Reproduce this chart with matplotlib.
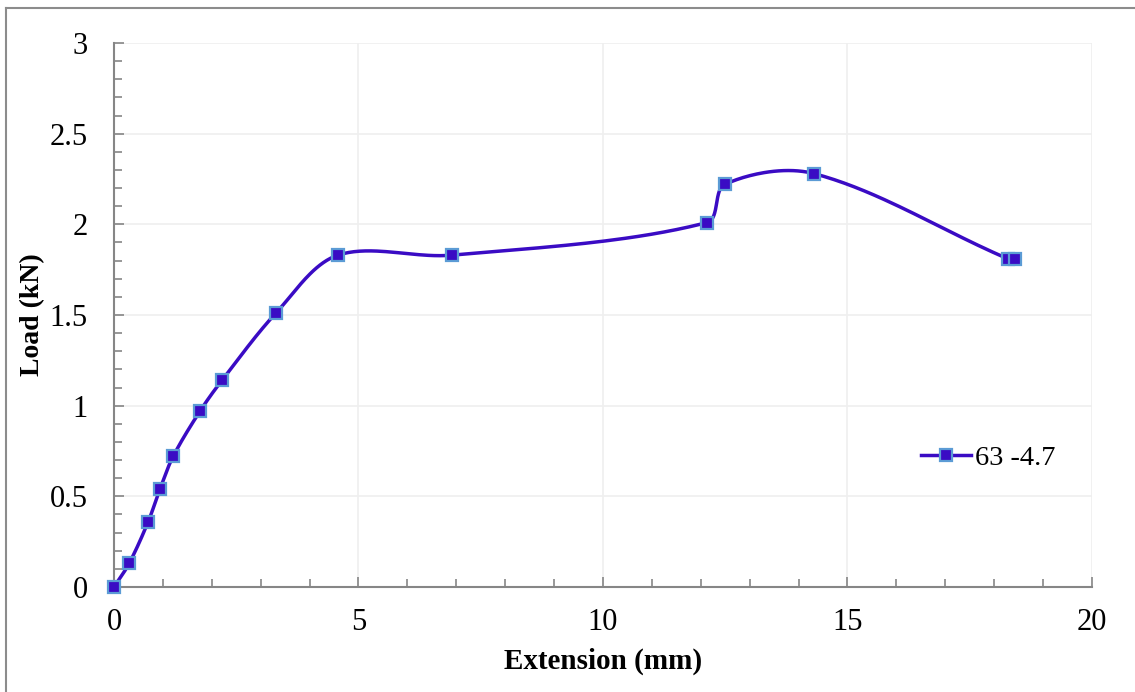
import numpy as np
import matplotlib.pyplot as plt
from matplotlib.lines import Line2D
from matplotlib.ticker import MultipleLocator

plt.rcParams['font.family'] = ['Liberation Serif', 'DejaVu Serif']

extension = [0, 0.31, 0.70, 0.94, 1.21, 1.76, 2.21, 3.31, 4.58, 6.91,
             12.13, 12.49, 14.31, 18.28, 18.42]
load = [0, 0.13, 0.36, 0.54, 0.72, 0.97, 1.14, 1.51, 1.83, 1.83,
        2.01, 2.22, 2.28, 1.81, 1.81]
series_name = '63 -4.7'

line_col = '#3a0bc4'
edge_col = '#5b9bd5'
axis_col = '#868686'


def smooth(ax, xs, ys, n=40):
    # smoothed line as cubic beziers in screen space, tangent handles
    # weighted by neighbouring segment lengths so short steps don't loop
    pts = ax.transData.transform(np.column_stack([xs, ys]))
    m = len(pts)
    handles_out = np.zeros_like(pts)
    handles_in = np.zeros_like(pts)
    for i in range(m):
        prev = pts[max(i - 1, 0)]
        nxt = pts[min(i + 1, m - 1)]
        tang = nxt - prev
        d_prev = np.hypot(*(pts[i] - prev))
        d_next = np.hypot(*(nxt - pts[i]))
        tot = d_prev + d_next
        if tot == 0:
            continue
        handles_out[i] = tang * d_next / tot / 3
        handles_in[i] = tang * d_prev / tot / 3
    t = np.linspace(0, 1, n)[:, None]
    out = []
    for i in range(m - 1):
        p1, p2 = pts[i], pts[i + 1]
        c1 = p1 + handles_out[i]
        c2 = p2 - handles_in[i + 1]
        seg = ((1 - t) ** 3 * p1 + 3 * (1 - t) ** 2 * t * c1
               + 3 * (1 - t) * t ** 2 * c2 + t ** 3 * p2)
        out.append(seg)
    out = np.vstack(out)
    return ax.transData.inverted().transform(out)


fig = plt.figure(figsize=(11.35, 6.92), dpi=100)
ax = fig.add_axes([0.1004, 0.1517, 0.8617, 0.7862])
ax.set_xlim(0, 20)
ax.set_ylim(0, 3)

curve = smooth(ax, extension, load)
ax.plot(curve[:, 0], curve[:, 1], color=line_col, lw=2.5, zorder=3,
        solid_capstyle='round')
ax.plot(extension, load, ls='none', marker='s', ms=8.5, mfc=line_col,
        mec=edge_col, mew=1.6, zorder=4, clip_on=False)

ax.xaxis.set_major_locator(MultipleLocator(5))
ax.xaxis.set_minor_locator(MultipleLocator(1))
ax.yaxis.set_minor_locator(MultipleLocator(0.1))
ax.set_yticks([0, 0.5, 1, 1.5, 2, 2.5, 3])
ax.set_yticklabels(['0', '0.5', '1', '1.5', '2', '2.5', '3'])

ax.grid(True, which='major', color='#efefef', lw=1.2, zorder=0)
ax.tick_params(which='both', direction='in', color=axis_col, width=1.2,
               labelsize=22, labelcolor='black')
ax.tick_params(which='major', length=7)
ax.tick_params(which='minor', length=6)
ax.tick_params(axis='y', pad=19)
ax.tick_params(axis='x', pad=15)

for s in ['top', 'right']:
    ax.spines[s].set_visible(False)
for s in ['left', 'bottom']:
    ax.spines[s].set_color(axis_col)
    ax.spines[s].set_linewidth(1.5)

ax.set_xlabel('Extension (mm)', fontsize=21, fontweight='bold', labelpad=8)
ax.set_ylabel('Load (kN)', fontsize=20, fontweight='bold', labelpad=3)

handle = Line2D([], [], color=line_col, lw=2.5, marker='s', ms=8.5,
                mfc=line_col, mec=edge_col, mew=1.6)
ax.legend([handle], [series_name], loc='center left',
          bbox_to_anchor=(0.825, 0.237), frameon=False, fontsize=20.5,
          handlelength=1.75, handletextpad=0.15, borderpad=0,
          borderaxespad=0)

# outer chart frame
fig.add_artist(Line2D([6 / 1135, 6 / 1135], [0, 1 - 8 / 692],
                      transform=fig.transFigure, color='#8c8c8c', lw=1.5))
fig.add_artist(Line2D([6 / 1135, 1], [1 - 8 / 692, 1 - 8 / 692],
                      transform=fig.transFigure, color='#8c8c8c', lw=1.5))

fig.savefig('out.png', dpi=100)
